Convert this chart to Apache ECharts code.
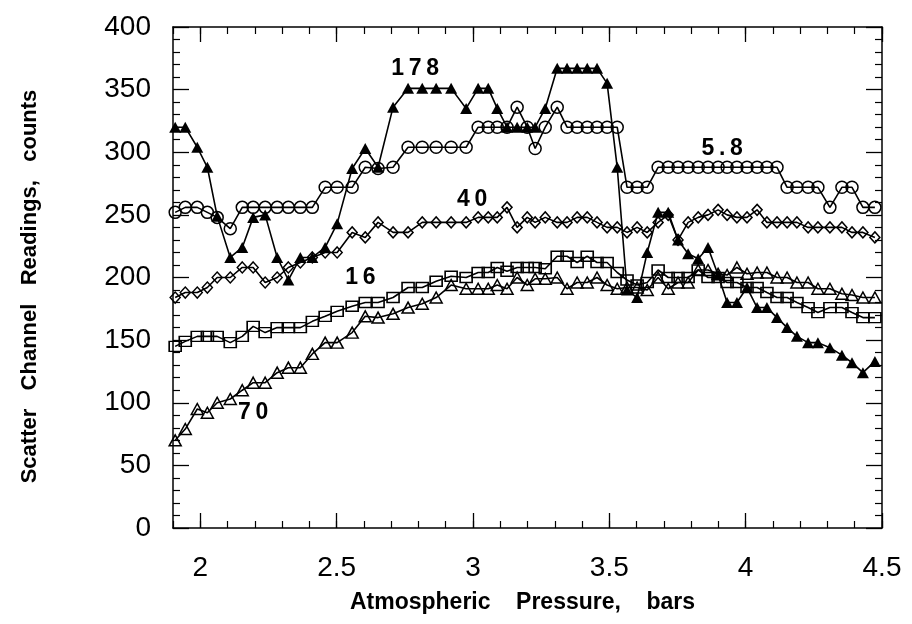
<!DOCTYPE html>
<html>
<head>
<meta charset="utf-8">
<script src="https://cdn.jsdelivr.net/npm/echarts@6/dist/echarts.min.js"></script>
<style>html,body{margin:0;padding:0;background:#fff;}#c{width:912px;height:624px;}</style>
</head>
<body>
<div id="c"></div>
<script>
// Shared pressure readings (bars)
const xPressure = [1.908,1.945,1.989,2.026,2.062,2.110,2.154,2.194,2.238,2.282,
  2.323,2.367,2.411,2.458,2.502,2.557,2.605,2.652,2.707,2.762,
  2.814,2.865,2.920,2.975,3.019,3.056,3.089,3.125,3.162,3.199,
  3.228,3.265,3.309,3.345,3.382,3.419,3.455,3.492,3.529,3.565,
  3.602,3.639,3.679,3.716,3.752,3.789,3.826,3.862,3.899,3.932,
  3.968,4.005,4.042,4.078,4.115,4.152,4.188,4.229,4.265,4.309,
  4.353,4.390,4.430,4.474];
// Scatter channel readings (counts)
const ch178 = [320,320,304,288,249,216,224,248,250,216,198,216,216,224,243,287,303,288,336,351,
  351,351,351,335,351,351,335,320,320,320,320,335,367,367,367,367,367,355,288,190,
  184,220,252,252,230,219,215,224,202,180,180,192,176,176,168,160,153,148,148,144,
  138,132,124,133];
const ch58 = [252,256,256,252,248,239,256,256,256,256,256,256,256,272,272,272,288,287,288,304,
  304,304,304,304,320,320,320,320,336,320,303,320,336,320,320,320,320,320,320,272,
  272,272,288,288,288,288,288,288,288,288,288,288,288,288,288,272,272,272,272,256,
  272,272,256,256];
const ch40 = [184,188,188,192,200,200,208,208,196,200,208,212,216,220,220,236,232,244,236,236,
  244,244,244,244,248,248,248,256,240,248,244,248,244,244,248,248,244,240,240,236,
  240,236,244,250,230,244,248,250,254,250,248,248,254,244,244,244,244,240,240,240,
  240,236,236,232];
const ch16 = [145,149,153,153,153,148,153,161,156,160,160,160,165,169,173,177,180,180,184,192,
  192,197,201,200,204,204,208,205,208,208,208,207,217,217,212,217,212,212,204,198,
  194,196,206,200,200,200,206,200,200,196,196,192,192,188,184,184,180,176,172,176,
  176,172,168,168];
const ch70 = [70,79,95,92,100,103,110,116,116,124,128,128,139,148,148,156,169,168,171,176,
  179,184,194,191,191,191,194,191,200,194,199,199,200,191,196,196,200,194,191,192,
  192,190,200,191,196,196,206,206,203,202,208,203,204,204,200,200,196,196,191,191,
  187,186,184,184];
// Curve annotations
const labelText = ['1\u20097\u20098', '5\u2009.\u20098', '4\u20090', '1\u20096', '7\u20090'];
const labelX = [2.788, 3.914, 2.997, 2.587, 2.194];
const labelY = [367, 303, 262, 200, 92];
// Tick values
const xMajorTicks = [2, 2.5, 3, 3.5, 4, 4.5];
const xMinorTicks = [1.9,2.0,2.1,2.2,2.3,2.4,2.5,2.6,2.7,2.8,2.9,3.0,3.1,3.2,3.3,3.4,3.5,
  3.6,3.7,3.8,3.9,4.0,4.1,4.2,4.3,4.4,4.5];

const FONT = "'Liberation Sans', Arial, sans-serif";
const pairs = arr => xPressure.map((x, i) => [x, arr[i]]);
const lineCommon = {
  type: 'line', xAxisIndex: 0, yAxisIndex: 0,
  lineStyle: { color: '#000', width: 1.6 },
  emphasis: { disabled: true }, animation: false
};
const hollow = { color: 'rgba(255,255,255,0)', borderColor: '#000', borderWidth: 1.5 };

const xCommon = {
  type: 'value', min: 1.9, max: 4.5, gridIndex: 0,
  splitLine: { show: false }, axisLabel: { show: false }
};
const chart = echarts.init(document.getElementById('c'), null, { renderer: 'canvas' });
chart.setOption({
  backgroundColor: '#fff',
  animation: false,
  grid: { left: 173, right: 30, top: 27, bottom: 96, containLabel: false },
  xAxis: [
    Object.assign({}, xCommon, {
      position: 'bottom',
      axisLine: { show: true, lineStyle: { color: '#000', width: 1.5 } },
      axisTick: { show: true, inside: true, length: 15, customValues: xMajorTicks, lineStyle: { color: '#000', width: 1.3 } },
      axisLabel: { show: true, customValues: xMajorTicks, fontSize: 28, color: '#000', fontFamily: FONT, margin: 26 },
      name: 'Atmospheric    Pressure,    bars', nameLocation: 'middle', nameGap: 63,
      nameTextStyle: { fontSize: 23, fontWeight: 'bold', color: '#000', fontFamily: FONT, padding: [0, 10, 0, 0] }
    }),
    Object.assign({}, xCommon, {
      position: 'bottom',
      axisLine: { show: false },
      axisTick: { show: true, inside: true, length: 7, customValues: xMinorTicks, lineStyle: { color: '#000', width: 1.2 } }
    }),
    Object.assign({}, xCommon, {
      position: 'top',
      axisLine: { show: true, lineStyle: { color: '#000', width: 1.5 } },
      axisTick: { show: true, inside: true, length: 15, customValues: xMajorTicks, lineStyle: { color: '#000', width: 1.3 } }
    }),
    Object.assign({}, xCommon, {
      position: 'top',
      axisLine: { show: false },
      axisTick: { show: true, inside: true, length: 7, customValues: xMinorTicks, lineStyle: { color: '#000', width: 1.2 } }
    })
  ],
  yAxis: [
    {
      type: 'value', min: 0, max: 400, interval: 50, position: 'left',
      splitLine: { show: false },
      axisLine: { show: true, lineStyle: { color: '#000', width: 1.5 } },
      axisTick: { show: true, inside: true, length: 16, lineStyle: { color: '#000', width: 1.3 } },
      minorTick: { show: true, splitNumber: 5, length: 7, lineStyle: { color: '#000', width: 1.2 } },
      axisLabel: { fontSize: 28, color: '#000', fontFamily: FONT, margin: 22 },
      name: 'Scatter   Channel   Readings,   counts', nameLocation: 'middle', nameGap: 132,
      nameTextStyle: { fontSize: 22, fontWeight: 'bold', color: '#000', fontFamily: FONT, padding: [0, 18, 0, 0] }
    },
    {
      type: 'value', min: 0, max: 400, interval: 50, position: 'right',
      splitLine: { show: false },
      axisLine: { show: true, lineStyle: { color: '#000', width: 1.5 } },
      axisTick: { show: true, inside: true, length: 16, lineStyle: { color: '#000', width: 1.3 } },
      minorTick: { show: true, splitNumber: 5, length: 7, lineStyle: { color: '#000', width: 1.2 } },
      axisLabel: { show: false }
    }
  ],
  series: [
    Object.assign({}, lineCommon, { name: '70', data: pairs(ch70), symbol: 'triangle', symbolSize: [12, 11], itemStyle: hollow }),
    Object.assign({}, lineCommon, { name: '16', data: pairs(ch16), symbol: 'rect', symbolSize: [12, 10], itemStyle: hollow }),
    Object.assign({}, lineCommon, { name: '40', data: pairs(ch40), symbol: 'diamond', symbolSize: [10, 11], itemStyle: hollow }),
    Object.assign({}, lineCommon, { name: '5.8', data: pairs(ch58), symbol: 'circle', symbolSize: 12, itemStyle: hollow }),
    Object.assign({}, lineCommon, { name: '178', data: pairs(ch178), symbol: 'triangle', symbolSize: [12, 11], itemStyle: { color: '#000' } }),
    {
      type: 'scatter', xAxisIndex: 0, yAxisIndex: 0, symbolSize: 0, silent: true,
      itemStyle: { color: '#000', opacity: 1 },
      data: labelText.map((t, i) => ({ name: t, value: [labelX[i], labelY[i]] })),
      label: { show: true, position: 'inside', formatter: p => p.name, fontSize: 23, fontWeight: 'bold', color: '#000', opacity: 1, textBorderWidth: 0, fontFamily: FONT },
      z: 5
    }
  ]
});
</script>
</body>
</html>
